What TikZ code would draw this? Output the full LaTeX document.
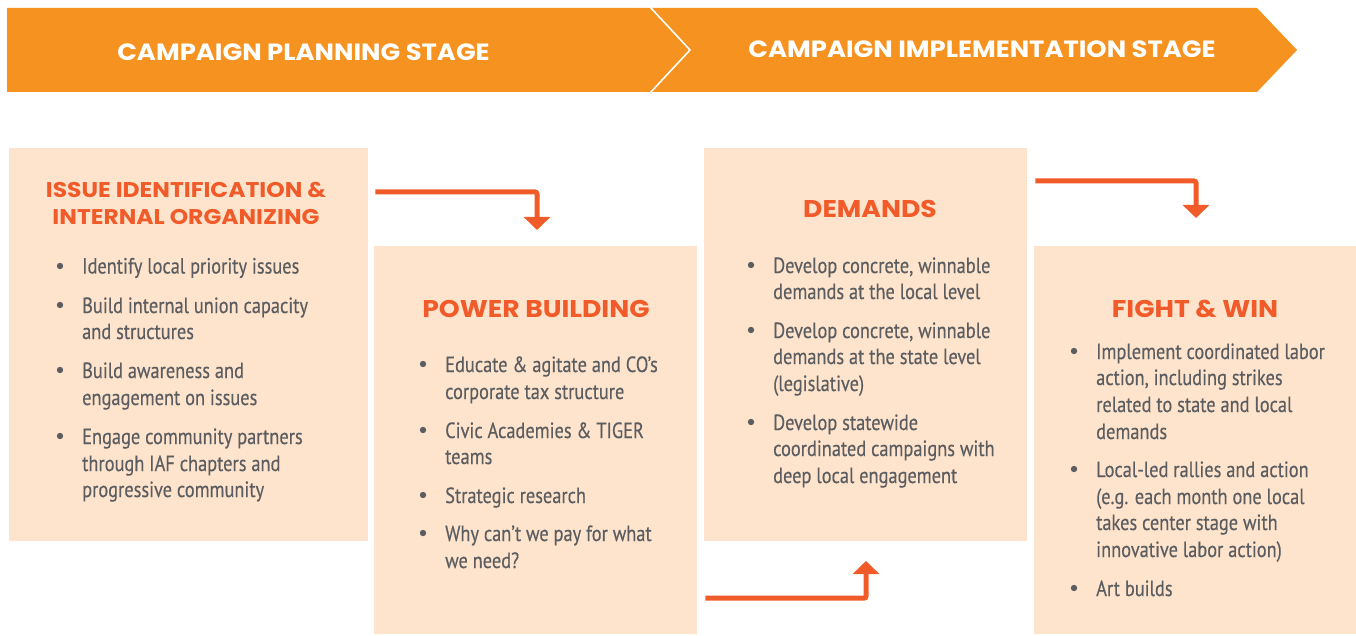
\documentclass[tikz,border=0pt]{standalone}
\usepackage{fontspec}
\setmainfont{PT Sans}
\newfontfamily\bodyfont[FakeStretch=0.835,FakeBold=0.35]{PT Sans}
\newfontfamily\headfont[FakeStretch=1.1]{Poppins}
\usetikzlibrary{arrows.meta,calc}
\definecolor{bannerorange}{HTML}{F6921F}
\definecolor{boxfill}{HTML}{FEE4CC}
\definecolor{titlered}{HTML}{F15A29}
\definecolor{bodygray}{HTML}{5C5D60}
\newcommand\bline[4]{\node[bodytext] (#1) at (#2,#3) {#4};}
\newcommand\bdot[3]{\fill[bodygray] (#2,#3) circle (3.2) coordinate (#1);}
\begin{document}
\begin{tikzpicture}[x=1pt,y=-1pt,
  box/.style={fill=boxfill, draw=none, anchor=north west, inner sep=0pt},
  bodytext/.style={anchor=base west, inner sep=0pt, text=bodygray, font=\bodyfont\fontsize{22}{26}\selectfont},
  boxtitle/.style={anchor=base, inner sep=0pt, text=titlered, font=\headfont\bfseries\fontsize{24.2}{26}\selectfont},
  firsttitle/.style={boxtitle, font=\headfont\bfseries\fontsize{21.3}{26}\selectfont},
  bannertext/.style={anchor=base, inner sep=0pt, text=white, font=\headfont\bfseries\fontsize{23.5}{26}\selectfont},
  flow/.style={draw=titlered, line width=5pt, rounded corners=2pt, -{Triangle[width=26pt,length=13pt]}}]
\useasboundingbox (0,0) rectangle (1356,636);
% banner
\fill[bannerorange] (7,8) -- (1257,8) -- (1297,50) -- (1257,92) -- (7,92) -- cycle;
\draw[white, line width=1.6pt] (650,7) -- (690,50) -- (650,93);
\node[bannertext] (b1) at (303.5,61) {CAMPAIGN PLANNING STAGE};
\node[bannertext] (b2) at (982,58) {CAMPAIGN IMPLEMENTATION STAGE};
% boxes
\node[box, minimum width=359pt, minimum height=393pt] (box1) at (9,148) {};
\node[box, minimum width=323pt, minimum height=388pt] (box2) at (374,246) {};
\node[box, minimum width=323pt, minimum height=393pt] (box3) at (704,148) {};
\node[box, minimum width=322pt, minimum height=388pt] (box4) at (1034,246) {};
% titles
\node[firsttitle] (t1a) at (186,198) {ISSUE IDENTIFICATION \&};
\node[firsttitle] (t1b) at (186,225) {INTERNAL ORGANIZING};
\node[boxtitle] (t2) at (536,317) {POWER BUILDING};
\node[boxtitle] (t3) at (870,217.5) {DEMANDS};
\node[boxtitle] (t4) at (1195,317.5) {FIGHT \& WIN};
% box 1 bullets
\bdot{d11}{60}{266}\bline{l11}{82}{273.5}{Identify local priority issues}
\bdot{d12}{60}{305}\bline{l12}{82}{313}{Build internal union capacity}
\bline{l13}{82}{339}{and structures}
\bdot{d13}{60}{370}\bline{l14}{82}{378}{Build awareness and}
\bline{l15}{82}{405}{engagement on issues}
\bdot{d14}{60}{436}\bline{l16}{82}{444}{Engage community partners}
\bline{l17}{82}{471}{through IAF chapters and}
\bline{l18}{82}{497}{progressive community}
% box 2 bullets
\bdot{d21}{423}{364}\bline{l21}{445}{372}{Educate \& agitate and CO’s}
\bline{l22}{445}{399}{corporate tax structure}
\bdot{d22}{423}{430}\bline{l23}{445}{438}{Civic Academies \& TIGER}
\bline{l24}{445}{464}{teams}
\bdot{d23}{423}{495}\bline{l25}{445}{503}{Strategic research}
\bdot{d24}{423}{533}\bline{l26}{445}{541}{Why can’t we pay for what}
\bline{l27}{445}{568}{we need?}
% box 3 bullets
\bdot{d31}{751}{265}\bline{l31}{773}{273}{Develop concrete, winnable}
\bline{l32}{773}{299}{demands at the local level}
\bdot{d32}{751}{330}\bline{l33}{773}{338}{Develop concrete, winnable}
\bline{l34}{773}{364}{demands at the state level}
\bline{l35}{773}{391}{(legislative)}
\bdot{d33}{751}{422}\bline{l36}{773}{430}{Develop statewide}
\bline{l37}{773}{456}{coordinated campaigns with}
\bline{l38}{773}{483}{deep local engagement}
% box 4 bullets
\bdot{d41}{1074}{351}\bline{l41}{1096}{359}{Implement coordinated labor}
\bline{l42}{1096}{385}{action, including strikes}
\bline{l43}{1096}{412}{related to state and local}
\bline{l44}{1096}{439}{demands}
\bdot{d42}{1074}{469}\bline{l45}{1096}{477}{Local-led rallies and action}
\bline{l46}{1096}{504}{(e.g. each month one local}
\bline{l47}{1096}{530}{takes center stage with}
\bline{l48}{1096}{557}{innovative labor action)}
\bdot{d43}{1074}{588}\bline{l49}{1096}{596}{Art builds}
% arrows
\coordinate (a1s) at ($(box1.north east)+(7,44)$);
\coordinate (a1e) at (537,230);
\coordinate (a2s) at ($(box2.east)+(8,158)$);
\coordinate (a2e) at (866,561);
\coordinate (a3s) at ($(box3.north east)+(8,33)$);
\coordinate (a3e) at (1196,218);
\draw[flow] (a1s) -| (a1e);
\draw[flow] (a2s) -| (a2e);
\draw[flow] (a3s) -| (a3e);
\end{tikzpicture}
\end{document}
